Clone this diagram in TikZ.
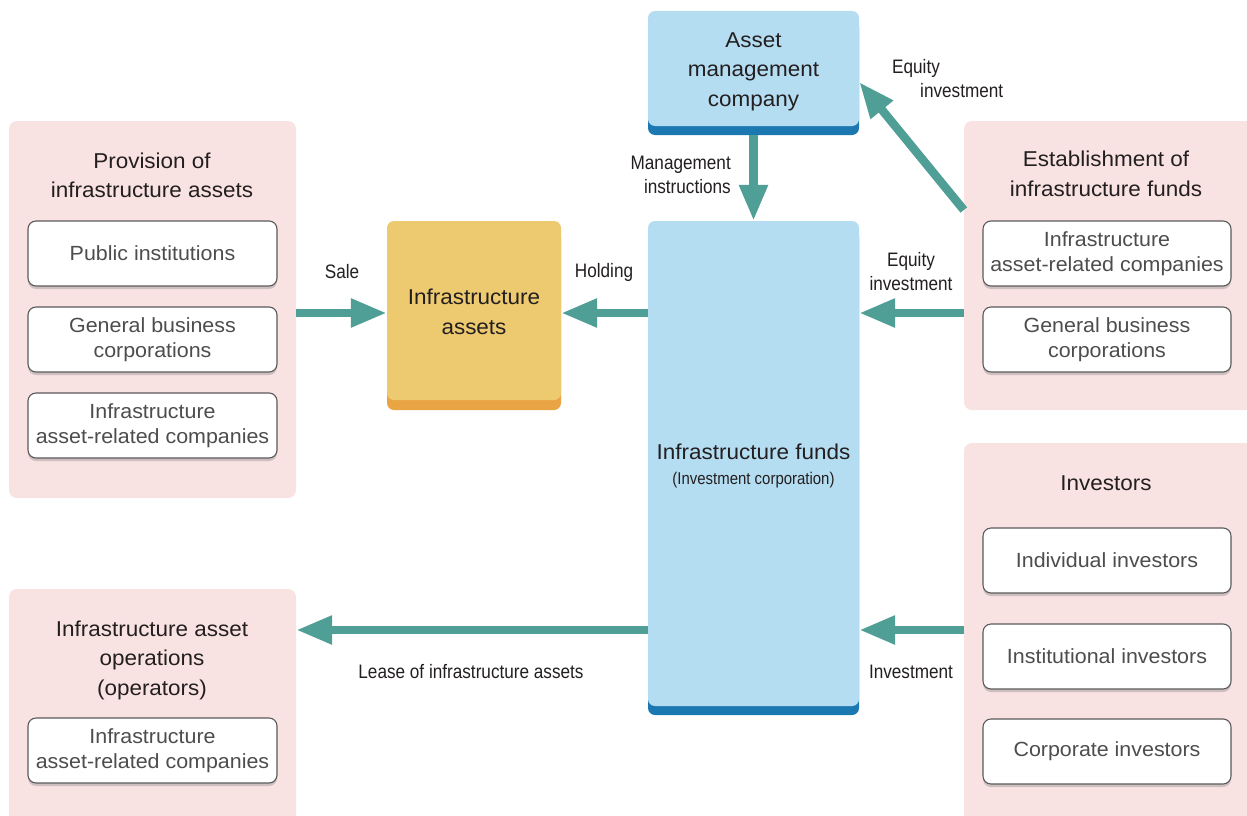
\documentclass[tikz,border=0pt]{standalone}
\usepackage{fontspec}
\setmainfont[FakeStretch=1.045]{Liberation Sans}
\newfontfamily\condfont[FakeStretch=0.88]{Liberation Sans}
\usetikzlibrary{arrows.meta,shadows}
\definecolor{pinkbg}{HTML}{F9E3E2}
\definecolor{teal}{HTML}{4F9F97}
\definecolor{lightblue}{HTML}{B5DDF2}
\definecolor{darkblue}{HTML}{1C78B0}
\definecolor{gold}{HTML}{EDCA70}
\definecolor{goldstrip}{HTML}{E9A444}
\definecolor{txtdark}{HTML}{231F20}
\definecolor{txtgray}{HTML}{4D4D4D}
\definecolor{bordergray}{HTML}{5A5A5A}
\definecolor{shadowgray}{HTML}{CDBFBF}
\newcommand\ttlf{\fontsize{21.5}{29.5}\selectfont}
\newcommand\itmf{\fontsize{20.5}{24.5}\selectfont}
\newcommand\lblf{\condfont\fontsize{19.5}{24}\selectfont}
\newcommand\smlf{\condfont\fontsize{17}{20}\selectfont}
\begin{document}
\begin{tikzpicture}[x=1pt,y=-1pt,
  panel/.style={fill=pinkbg,rounded corners=8pt,inner sep=0pt},
  item/.style={draw=bordergray,line width=1.1pt,fill=white,rounded corners=8pt,
    minimum width=249pt,minimum height=65pt,inner sep=0pt,align=center,
    font=\itmf,text=txtgray,
    drop shadow={shadow xshift=0pt,shadow yshift=-3pt,fill=shadowgray,opacity=1}},
  ttl/.style={align=center,font=\ttlf,text=txtdark,inner sep=0pt},
  bluebox/.style={fill=lightblue,rounded corners=7pt,inner sep=0pt,align=center,
    font=\ttlf,text=txtdark,
    drop shadow={shadow xshift=0pt,shadow yshift=-9pt,fill=darkblue,opacity=1}},
  goldbox/.style={fill=gold,rounded corners=7pt,inner sep=0pt,align=center,
    font=\ttlf,text=txtdark,
    drop shadow={shadow xshift=0pt,shadow yshift=-10pt,fill=goldstrip,opacity=1}},
  lbl/.style={font=\lblf,text=txtdark,inner sep=0pt},
  arr/.style={draw=teal,line width=8.5pt,-{Triangle[length=36pt,width=27pt]},color=teal}
]
\clip (0,0) rectangle (1247,816);
\fill[white] (0,0) rectangle (1247,816);

% panels
\node[panel,minimum width=287pt,minimum height=377pt] (lp1) at (152.5,309.5) {};
\node[panel,minimum width=287pt,minimum height=245pt] (lp2) at (152.5,711.5) {};
\node[panel,minimum width=296pt,minimum height=289pt] (rp1) at (1112,265.5) {};
\node[panel,minimum width=296pt,minimum height=390pt] (rp2) at (1112,638) {};

% panel titles
\node[ttl] (t1) at (152,175.5) {Provision of\\infrastructure assets};
\node[ttl] (t2) at (152,660) {Infrastructure asset\\operations\\(operators)};
\node[ttl] (t3) at (1106,174) {Establishment of\\infrastructure funds};
\node[ttl] (t4) at (1106,483) {Investors};

% items
\node[item] (l1) at (152.5,253.5) {Public institutions};
\node[item] (l2) at (152.5,339.5) {General business\\corporations};
\node[item] (l3) at (152.5,425.5) {Infrastructure\\asset-related companies};
\node[item] (l4) at (152.5,750.5) {Infrastructure\\asset-related companies};
\node[item,minimum width=248pt] (r1) at (1107,253.5) {Infrastructure\\asset-related companies};
\node[item,minimum width=248pt] (r2) at (1107,339.5) {General business\\corporations};
\node[item,minimum width=248pt] (r3) at (1107,560.5) {Individual investors};
\node[item,minimum width=248pt] (r4) at (1107,656.5) {Institutional investors};
\node[item,minimum width=248pt] (r5) at (1107,751.5) {Corporate investors};

% central boxes
\node[goldbox,minimum width=174pt,minimum height=179pt] (assets) at (474,310.5) {};
\node[ttl] (assetst) at (474,312) {Infrastructure\\assets};
\node[bluebox,minimum width=211pt,minimum height=115pt] (am) at (753.5,68.5) {};
\node[ttl] (amt) at (753.5,71.5) {Asset\\management\\company};
\node[bluebox,minimum width=211pt,minimum height=485pt] (funds) at (753.5,463.5) {};
\node[ttl] (fundst) at (753.5,452) {Infrastructure funds};
\node[font=\smlf,text=txtdark,inner sep=0pt] (fundss) at (753.5,480) {(Investment corporation)};

% arrows
\draw[arr] (lp1.east |- 0,313) -- (assets.west |- 0,313);
\draw[arr] (funds.west |- 0,313) -- (assets.east |- 0,313);
\draw[arr] (rp1.west |- 0,313) -- (funds.east |- 0,313);
\draw[arr] ([yshift=-9pt]am.south) -- (funds.north);
\draw[arr] (rp1.west |- 0,210) -- (am.east |- 0,82);
\draw[arr] (funds.west |- 0,630) -- (lp2.east |- 0,630);
\draw[arr] (rp2.west |- 0,630) -- (funds.east |- 0,630);

% labels
\node[lbl] (sale) at (342,272) {Sale};
\node[lbl] (hold) at (604,272) {Holding};
\node[lbl,align=center] (eq2) at (911,272) {Equity\\investment};
\node[lbl,align=right,anchor=east] (mgmt) at (731,175) {Management\\instructions};
\node[lbl,align=left,anchor=west] (eq1) at (892,79) {Equity\\\hspace*{28pt}investment};
\node[lbl] (lease) at (471,672) {Lease of infrastructure assets};
\node[lbl] (inv) at (911,672) {Investment};
\end{tikzpicture}
\end{document}
